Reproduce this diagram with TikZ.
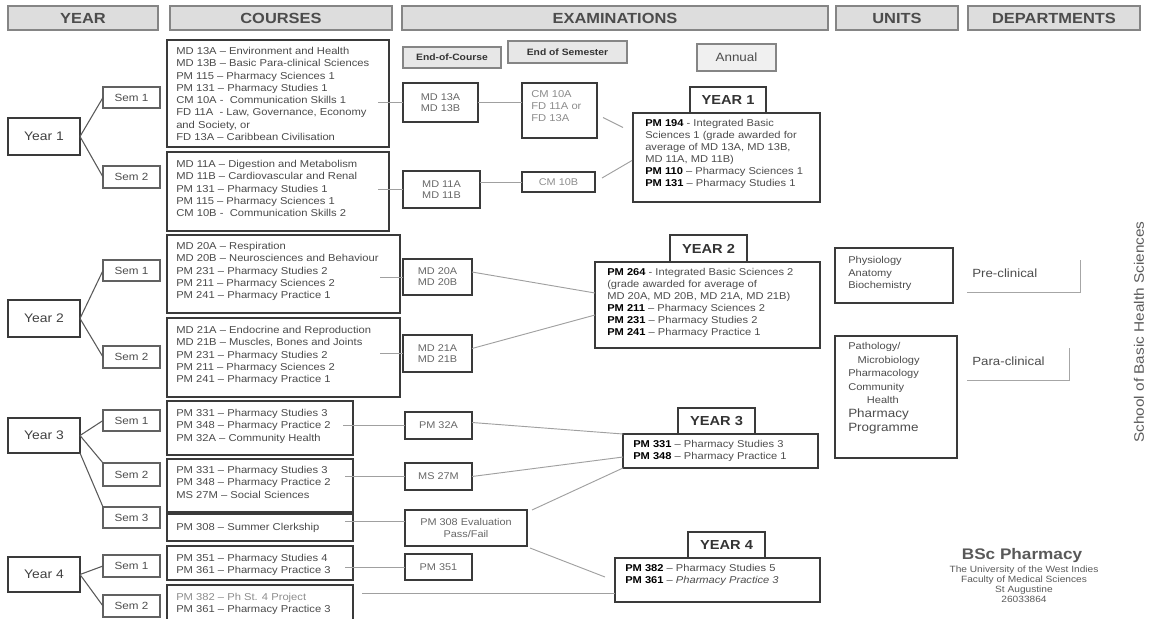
\documentclass[tikz,border=0pt]{standalone}
\usepackage{fontspec}
\setmainfont{Liberation Sans}[FakeStretch=1.12]
\usetikzlibrary{calc}
\definecolor{hdrfill}{HTML}{DDDDDD}
\definecolor{hdrline}{HTML}{858585}
\definecolor{boxline}{HTML}{3A3A3A}
\definecolor{txtgray}{HTML}{4A4A4A}
\definecolor{lnk}{HTML}{A0A0A0}
\tikzset{
  hdr/.style={draw=hdrline, fill=hdrfill, line width=1.3pt, inner sep=0pt, outer sep=0pt,
    font=\bfseries\fontsize{11}{12}\selectfont, text=black!70},
  subhdr/.style={draw=hdrline, fill=hdrfill!70, line width=1.1pt, inner sep=0pt, outer sep=0pt,
    font=\bfseries\fontsize{6.9}{7.5}\selectfont, text=black!80},
  annualbox/.style={draw=hdrline, fill=hdrfill!45, line width=1.1pt, inner sep=0pt, outer sep=0pt,
    font=\fontsize{9}{10}\selectfont, text=black!70},
  frame/.style={draw=boxline, line width=0.9pt, inner sep=0pt, outer sep=0pt,
    font=\fontsize{7.3}{8.4}\selectfont, text=black!60, align=center},
  yrbox/.style={draw=boxline, line width=1pt, inner sep=0pt, outer sep=0pt,
    font=\fontsize{9.3}{11}\selectfont, text=black!75},
  sembox/.style={draw=boxline!80, line width=1pt, inner sep=0pt, outer sep=0pt,
    font=\fontsize{7.8}{9}\selectfont, text=black!70},
  tabbox/.style={draw=boxline, line width=1pt, inner sep=0pt, outer sep=0pt,
    font=\bfseries\fontsize{9.8}{11}\selectfont, text=black!80},
  unitbox/.style={draw=boxline, line width=1.7pt, inner sep=0pt, outer sep=0pt},
  ctext/.style={anchor=north west, inner sep=0pt, align=left,
    font=\fontsize{7.5}{9.2}\selectfont, text=txtgray},
  atext/.style={anchor=north west, inner sep=0pt, align=left,
    font=\fontsize{7.45}{9.0}\selectfont, text=black!70},
  utext/.style={anchor=north west, inner sep=0pt, align=left,
    font=\fontsize{7.4}{9.5}\selectfont, text=black!70},
  dept/.style={anchor=west, inner sep=0pt, font=\fontsize{8.9}{10}\selectfont, text=black!70},
  ylink/.style={draw=black!65, line width=0.8pt},
  link/.style={draw=lnk, line width=0.7pt},
  brk/.style={draw=black!35, line width=0.7pt},
}
\newcommand\bx[7][frame]{\node[#1, minimum width={(#5-#3)*0.75pt}, minimum height={(#6-#4)*0.75pt}]
  (#2) at ({(#3+#5)/2},{(#4+#6)/2}) {#7};}
\newcommand\pc[1]{\textbf{\color{black}#1}}
\begin{document}
\begin{tikzpicture}[x=0.75pt,y=-0.75pt]
\useasboundingbox (0,0) rectangle (1149,618);
% headers
\bx[hdr]{hyear}{8}{6}{158}{30}{YEAR}
\bx[hdr]{hcourses}{170}{6}{392}{30}{COURSES}
\bx[hdr]{hexam}{402}{6}{828}{30}{EXAMINATIONS}
\bx[hdr]{hunits}{836}{6}{958}{30}{UNITS}
\bx[hdr]{hdept}{968}{6}{1140}{30}{DEPARTMENTS}
\bx[subhdr]{eoc}{403}{47}{501}{68}{End-of-Course}
\bx[subhdr]{eosh}{508}{41}{627}{63}{End of Semester}
\bx[annualbox]{ann}{697}{44}{776}{71}{Annual}
% years and semesters
\bx[yrbox]{y1}{8}{118}{80}{155}{Year 1}
\bx[sembox]{s11}{103}{87}{160}{108}{Sem 1}
\bx[sembox]{s12}{103}{166}{160}{188}{Sem 2}
\bx[yrbox]{y2}{8}{300}{80}{337}{Year 2}
\bx[sembox]{s21}{103}{260}{160}{281}{Sem 1}
\bx[sembox]{s22}{103}{346}{160}{368}{Sem 2}
\bx[yrbox]{y3}{8}{418}{80}{453}{Year 3}
\bx[sembox]{s31}{103}{410}{160}{431}{Sem 1}
\bx[sembox]{s32}{103}{463}{160}{486}{Sem 2}
\bx[sembox]{s33}{103}{507}{160}{528}{Sem 3}
\bx[yrbox]{y4}{8}{557}{80}{592}{Year 4}
\bx[sembox]{s41}{103}{555}{160}{577}{Sem 1}
\bx[sembox]{s42}{103}{595}{160}{617}{Sem 2}
\draw[ylink] (y1.east) -- (s11.west);
\draw[ylink] (y1.east) -- (s12.west);
\draw[ylink] (y2.east) -- (s21.west);
\draw[ylink] (y2.east) -- (s22.west);
\draw[ylink] (y3.east) -- (s31.west);
\draw[ylink] (y3.east) -- (s32.north west);
\draw[ylink] (y3.south east) -- (s33.north west);
\draw[ylink] (y4.east) -- (s41.west);
\draw[ylink] (y4.east) -- (s42.west);
% courses
\bx{c1}{167}{40}{389}{147}{}
\bx{c2}{167}{152}{389}{231}{}
\bx{c3}{167}{235}{400}{313}{}
\bx{c4}{167}{318}{400}{397}{}
\bx{c5}{167}{401}{353}{455}{}
\bx{c6}{167}{459}{353}{512}{}
\bx{c7}{167}{514}{353}{541}{}
\bx{c8}{167}{546}{353}{580}{}
\bx{c9}{167}{585}{353}{625}{}
\node[ctext] (t1) at (176,47) {MD 13A – Environment and Health\\MD 13B – Basic Para-clinical Sciences\\PM 115 – Pharmacy Sciences 1\\PM 131 – Pharmacy Studies 1\\CM 10A -\ \ Communication Skills 1\\FD 11A\ \ - Law, Governance, Economy\\and Society, or\\FD 13A – Caribbean Civilisation};
\node[ctext] (t2) at (176,160) {MD 11A – Digestion and Metabolism\\MD 11B – Cardiovascular and Renal\\PM 131 – Pharmacy Studies 1\\PM 115 – Pharmacy Sciences 1\\CM 10B -\ \ Communication Skills 2};
\node[ctext] (t3) at (176,242) {MD 20A – Respiration\\MD 20B – Neurosciences and Behaviour\\PM 231 – Pharmacy Studies 2\\PM 211 – Pharmacy Sciences 2\\PM 241 – Pharmacy Practice 1};
\node[ctext] (t4) at (176,326) {MD 21A – Endocrine and Reproduction\\MD 21B – Muscles, Bones and Joints\\PM 231 – Pharmacy Studies 2\\PM 211 – Pharmacy Sciences 2\\PM 241 – Pharmacy Practice 1};
\node[ctext] (t5) at (176,409) {PM 331 – Pharmacy Studies 3\\PM 348 – Pharmacy Practice 2\\PM 32A – Community Health};
\node[ctext] (t6) at (176,466) {PM 331 – Pharmacy Studies 3\\PM 348 – Pharmacy Practice 2\\MS 27M – Social Sciences};
\node[ctext] (t7) at (176,523) {PM 308 – Summer Clerkship};
\node[ctext] (t8) at (176,554) {PM 351 – Pharmacy Studies 4\\PM 361 – Pharmacy Practice 3};
\node[ctext] (t9) at (176,593) {\textcolor{black!45}{PM 382 – Ph St. 4 Project}\\PM 361 – Pharmacy Practice 3};
% end-of-course / end-of-semester exams
\bx{e1}{403}{83}{478}{122}{MD 13A\\MD 13B}
\bx{e2}{403}{171}{480}{208}{MD 11A\\MD 11B}
\bx{eos1}{522}{83}{597}{138}{}
\node[ctext, text=black!45] (teos1) at (531,90) {CM 10A\\FD 11A or\\FD 13A};
\bx[frame, text=black!45]{eos2}{522}{172}{595}{192}{CM 10B}
\bx{e3}{403}{259}{472}{295}{MD 20A\\MD 20B}
\bx{e4}{403}{335}{472}{372}{MD 21A\\MD 21B}
\bx{e5}{405}{412}{472}{439}{PM 32A}
\bx{e6}{405}{463}{472}{490}{MS 27M}
\bx{e7}{405}{510}{527}{546}{PM 308 Evaluation\\Pass/Fail}
\bx{e8}{405}{554}{472}{580}{PM 351}
% annual
\bx[tabbox]{y1t}{690}{87}{766}{113}{YEAR 1}
\bx{y1m}{633}{113}{820}{202}{}
\node[atext] (ty1) at (645,119) {\pc{PM 194} - Integrated Basic\\Sciences 1 (grade awarded for\\average of MD 13A, MD 13B,\\MD 11A, MD 11B)\\\pc{PM 110} – Pharmacy Sciences 1\\\pc{PM 131} – Pharmacy Studies 1};
\bx[tabbox]{y2t}{670}{235}{747}{262}{YEAR 2}
\bx{y2m}{595}{262}{820}{348}{}
\node[atext] (ty2) at (607,268) {\pc{PM 264} - Integrated Basic Sciences 2\\(grade awarded for average of\\MD 20A, MD 20B, MD 21A, MD 21B)\\\pc{PM 211} – Pharmacy Sciences 2\\\pc{PM 231} – Pharmacy Studies 2\\\pc{PM 241} – Pharmacy Practice 1};
\bx[tabbox]{y3t}{678}{408}{755}{434}{YEAR 3}
\bx{y3m}{623}{434}{818}{468}{}
\node[atext] (ty3) at (633,440) {\pc{PM 331} – Pharmacy Studies 3\\\pc{PM 348} – Pharmacy Practice 1};
\bx[tabbox]{y4t}{688}{532}{765}{558}{YEAR 4}
\bx{y4m}{615}{558}{820}{602}{}
\node[atext] (ty4) at (625,564) {\pc{PM 382} – Pharmacy Studies 5\\\pc{PM 361} – \textit{Pharmacy Practice 3}};
% course -> exam links
\draw[link] (e1.west) -- ++(-25,0);
\draw[link] (e2.west) -- ++(-25,0);
\draw[link] (e3.west) -- ++(-23,0);
\draw[link] (e4.west) -- ++(-23,0);
\draw[link] (e5.west) -- ++(-62,0);
\draw[link] (e6.west) -- ++(-60,0);
\draw[link] ([shift={(0,-7)}]e7.west) -- ++(-60,0);
\draw[link] (e8.west) -- ++(-60,0);
\draw[link] (e1.east) -- (e1.east -| eos1.west);
\draw[link] (eos2.west) -- (eos2.west -| e2.east);
% exam -> annual links
\draw[link] ([shift={(6,7)}]eos1.east) -- ([shift={(-10,-30)}]y1m.west);
\draw[link] ([shift={(7,-4)}]eos2.east) -- ([shift={(-1,3)}]y1m.west);
\draw[link] ([shift={(0,-5)}]e3.east) -- ([shift={(0,-12)}]y2m.west);
\draw[link] ([shift={(0,-5)}]e4.east) -- ([shift={(0,10)}]y2m.west);
\draw[link] ([shift={(0,-3)}]e5.east) -- (y3m.north west);
\draw[link] (e6.east) -- ([shift={(0,6)}]y3m.west);
\draw[link] ([shift={(5,0)}]e7.north east) -- (y3m.south west);
\draw[link] ([shift={(3,2)}]e7.south east) -- ([shift={(-10,-3)}]y4m.west);
\draw[link] ([shift={(9,-12)}]c9.east) coordinate (c9o) -- (c9o -| y4m.west);
% units and departments
\bx[unitbox]{u1}{835}{248}{953}{303}{}
\node[utext] (tu1) at (848,256) {Physiology\\Anatomy\\Biochemistry};
\bx[unitbox]{u2}{835}{336}{957}{458}{}
\node[utext, font=\fontsize{7.4}{10.2}\selectfont] (tu2) at (848,342) {Pathology/\\\hspace*{7pt}Microbiology\\Pharmacology\\Community\\\hspace*{14pt}Health\\{\fontsize{9}{11}\selectfont Pharmacy}\\{\fontsize{9}{11}\selectfont Programme}};
\node[dept] (pre) at (972,273) {Pre-clinical};
\draw[brk] (967,292) -- (1080,292) -- (1080,260);
\node[dept] (para) at (972,361) {Para-clinical};
\draw[brk] (967,380) -- (1069,380) -- (1069,348);
\node[rotate=90, inner sep=0pt, font=\fontsize{10.3}{11}\selectfont, text=black!65] (school) at (1139,332) {School of Basic Health Sciences};
\node[inner sep=0pt, font=\bfseries\fontsize{11.5}{13}\selectfont, text=black!65] (bsc) at (1022,556) {BSc Pharmacy};
\node[anchor=north, inner sep=0pt, align=center, font=\fontsize{6.8}{7.5}\selectfont, text=black!65] (uwi) at (1024,566) {The University of the West Indies\\Faculty of Medical Sciences\\St Augustine\\26033864};
\end{tikzpicture}
\end{document}
